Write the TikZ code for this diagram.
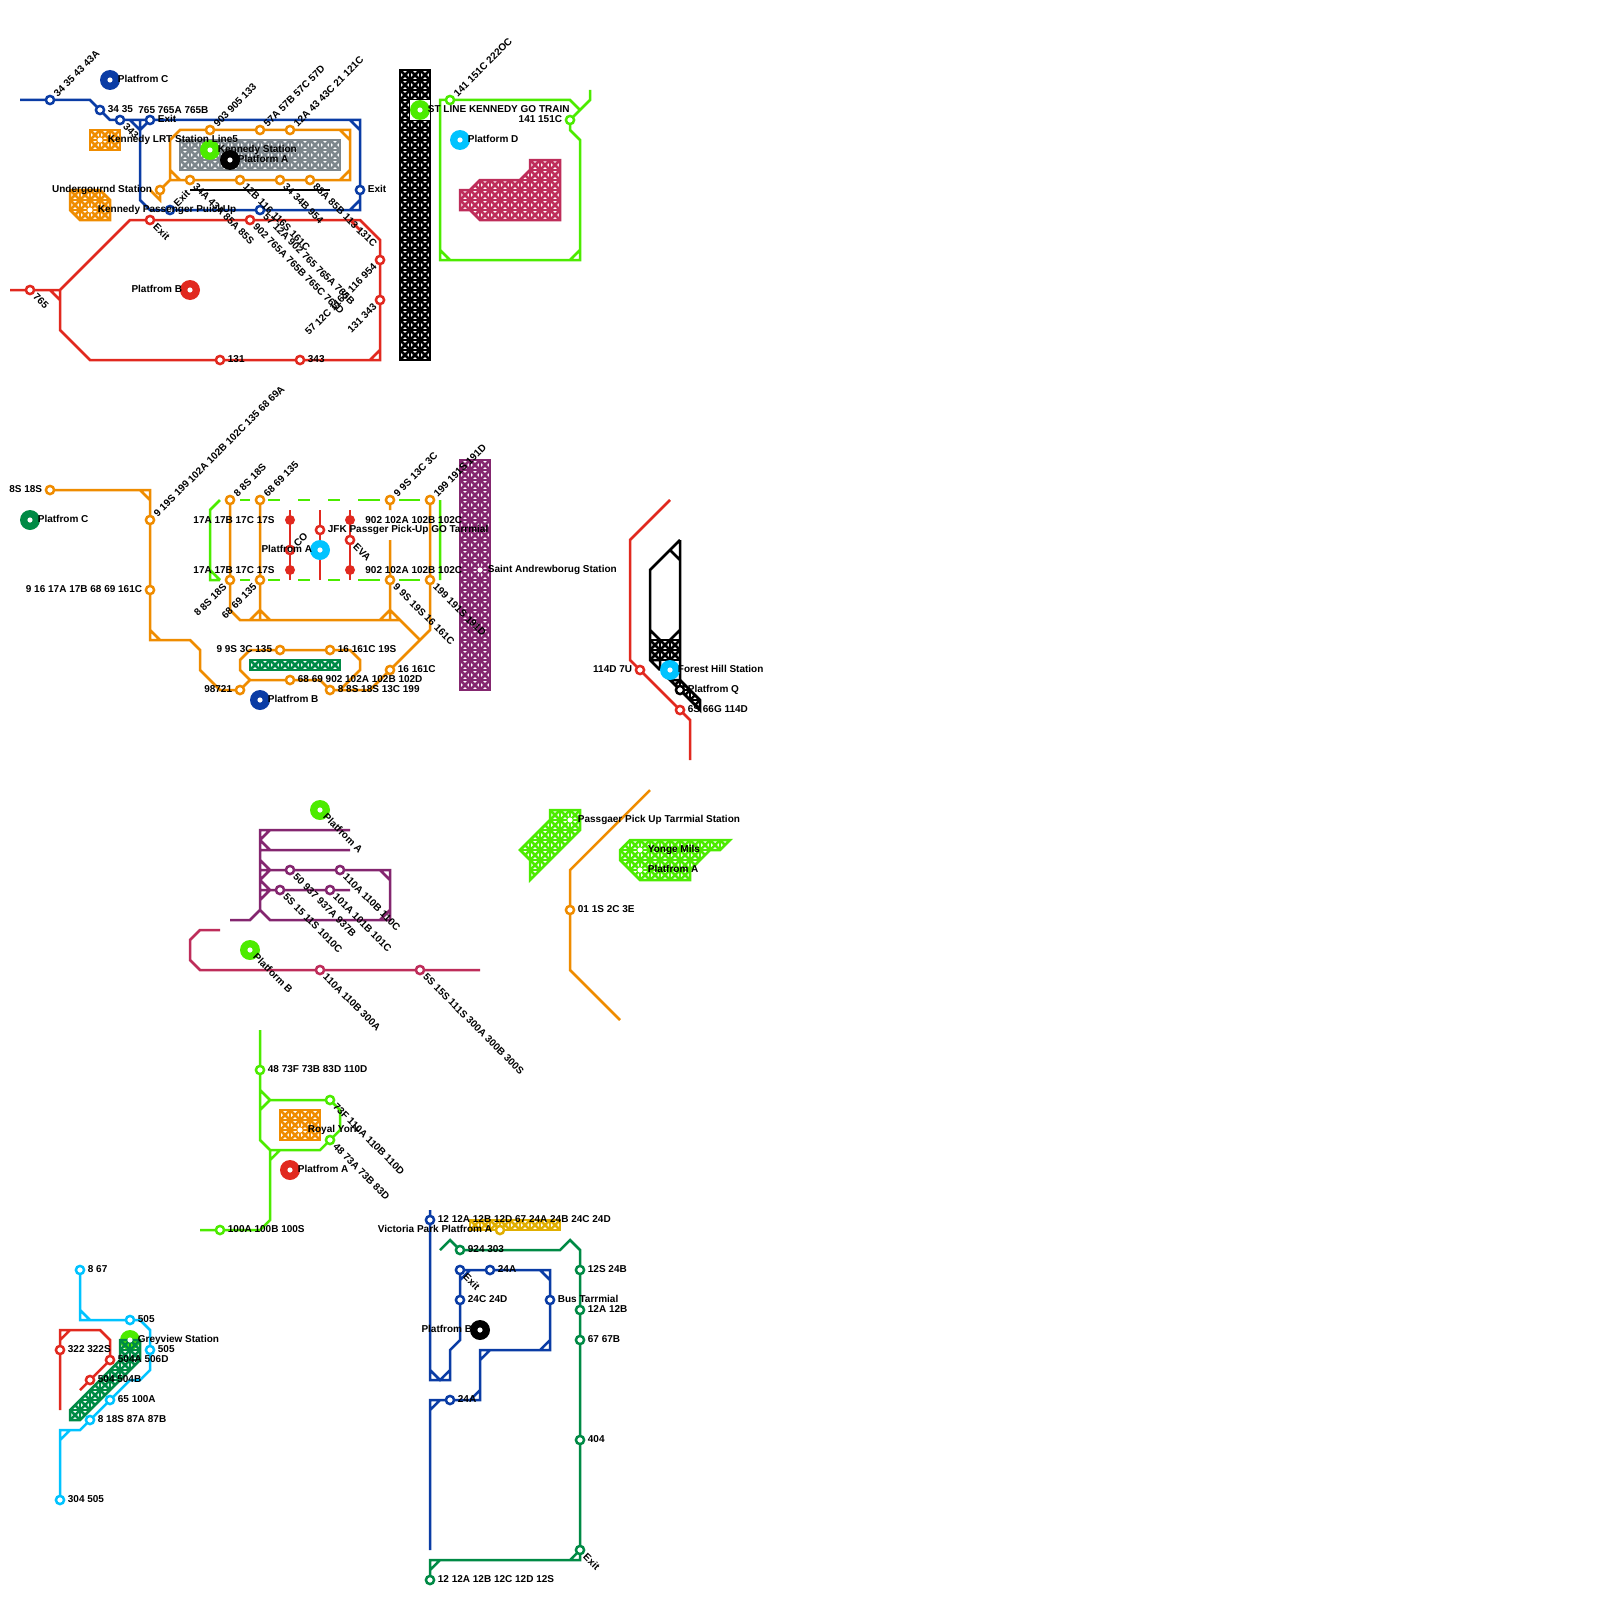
\documentclass[tikz,border=0pt]{standalone}
\usepackage{fontspec}
\setmainfont{Liberation Sans}
\definecolor{cblue}{HTML}{0A3CA5}
\definecolor{corange}{HTML}{EF8C00}
\definecolor{cred}{HTML}{E1291F}
\definecolor{clime}{HTML}{4CEB00}
\definecolor{ccyan}{HTML}{00C3FF}
\definecolor{cgreen}{HTML}{008A45}
\definecolor{cpurple}{HTML}{84266F}
\definecolor{crasp}{HTML}{BE2D5A}
\definecolor{cgold}{HTML}{E0AE00}
\definecolor{cgray}{HTML}{7D868C}
\tikzset{
 ln/.style={line width=1.25pt,line join=miter,line cap=butt},
 hl/.style={line width=1.25pt},
 stn/.style={circle,fill=white,line width=1.25pt,inner sep=0pt,minimum size=4.1pt},
 bigc/.style={circle,inner sep=0pt,minimum size=10pt},
 wdot/.style={circle,fill=white,inner sep=0pt,minimum size=2.6pt},
 fdot/.style={circle,inner sep=0pt,minimum size=5pt},
 lab/.style={inner sep=0pt,text height=3.6pt,text depth=0pt,font=\fontsize{5}{6}\selectfont\bfseries,text=black},
}
\newcommand{\ST}[4]{\node[stn,draw=#2] (#1) at (#3,#4) {};}
\newcommand{\PL}[4]{\node[bigc,fill=#2] (#1) at (#3,#4) {};\node[wdot] (#1d) at (#1) {};}
\newcommand{\WD}[3]{\node[wdot] (#1) at (#2,#3) {};}
\newcommand{\FD}[4]{\node[fdot,fill=#2] (#1) at (#3,#4) {};}
\newcommand{\LR}[2]{\node[lab,anchor=west] (l#1) at ([xshift=3.75pt,yshift=0.5pt]#1.center) {#2};}
\newcommand{\LL}[2]{\node[lab,anchor=east] (l#1) at ([xshift=-3.75pt,yshift=0.5pt]#1.center) {#2};}
\newcommand{\LU}[2]{\node[lab,anchor=west,rotate=45] (l#1) at ([xshift=2.5pt,yshift=2.5pt]#1.center) {#2};}
\newcommand{\LD}[2]{\node[lab,anchor=west,rotate=-45] (l#1) at ([xshift=2.5pt,yshift=-2.5pt]#1.center) {#2};}
\newcommand{\LUL}[2]{\node[lab,anchor=east,rotate=45] (l#1) at ([xshift=-2.5pt,yshift=-2.5pt]#1.center) {#2};}
\newcommand{\hatchblock}[6]{%
 \begin{scope}
  \clip #2;
  \foreach \hx in {#3,...,#4}{\foreach \hy in {#5,...,#6}{
    \draw[hl,#1] ({\hx*10},{\hy*10}) rectangle ({\hx*10+10},{\hy*10+10});
    \draw[hl,#1] ({\hx*10},{\hy*10}) -- ({\hx*10+10},{\hy*10+10});
    \draw[hl,#1] ({\hx*10+10},{\hy*10}) -- ({\hx*10},{\hy*10+10});
  }}
 \end{scope}
 \draw[ln,#1] #2;
}
\begin{document}
\begin{tikzpicture}[x=0.5pt,y=-0.5pt]
\useasboundingbox (0,0) rectangle (1600,1600);
\fill[white] (0,0) rectangle (1600,1600);
% ---- hatched blocks
\hatchblock{cgray}{(180,140) rectangle (340,170)}{18}{33}{14}{16}
\hatchblock{corange}{(90,130) rectangle (120,150)}{9}{11}{13}{14}
\hatchblock{corange}{(70,190) -- (100,190) -- (110,200) -- (110,220) -- (80,220) -- (70,210) -- cycle}{7}{10}{19}{21}
\hatchblock{black}{(400,70) rectangle (430,360)}{40}{42}{7}{35}
\fill[white] (410,100) rectangle (430,120);
\hatchblock{crasp}{(460,190) -- (470,190) -- (480,180) -- (520,180) -- (530,170) -- (530,160) -- (560,160) -- (560,220) -- (480,220) -- (470,210) -- (460,210) -- cycle}{46}{55}{16}{21}
\hatchblock{cgreen}{(250,660) rectangle (340,670)}{25}{33}{66}{66}
\hatchblock{cpurple}{(460,460) rectangle (490,690)}{46}{48}{46}{68}
\hatchblock{black}{(650,640) rectangle (680,660)}{65}{67}{64}{65}
\hatchblock{black}{(670,680) -- (680,680) -- (700,700) -- (700,710) -- cycle}{67}{69}{68}{70}
\hatchblock{clime}{(550,810) -- (580,810) -- (580,830) -- (530,880) -- (530,860) -- (520,850) -- (550,820) -- cycle}{52}{57}{81}{87}
\hatchblock{clime}{(630,840) -- (730,840) -- (720,850) -- (710,850) -- (690,870) -- (690,880) -- (640,880) -- (620,860) -- (620,850) -- cycle}{62}{72}{84}{87}
\hatchblock{corange}{(280,1110) rectangle (320,1140)}{28}{31}{111}{113}
\hatchblock{cgold}{(470,1220) rectangle (560,1230)}{47}{55}{122}{122}
\node[bigc,fill=clime] (pgrey) at (130,1340) {};
\hatchblock{cgreen}{(120,1340) -- (140,1340) -- (140,1360) -- (80,1420) -- (70,1420) -- (70,1410) -- (120,1360) -- cycle}{7}{13}{134}{141}
% ---- lines: group 1
\draw[ln,cblue] (20,100) -- (90,100) -- (110,120) -- (360,120) -- (360,210) -- (150,210) -- (140,200) -- (140,120) (130,120) -- (140,130) -- (150,120) (350,120) -- (360,130) (350,210) -- (360,200);
\draw[ln,corange] (150,190) -- (160,200) -- (160,190) -- (170,180) -- (350,180) -- (350,130) -- (180,130) -- (170,140) -- (170,180) (170,170) -- (180,180) (340,130) -- (350,140) (340,180) -- (350,170);
\draw[ln,black] (190,190) -- (330,190);
\draw[ln,cred] (10,290) -- (60,290) -- (130,220) -- (360,220) -- (380,240) -- (380,360) -- (90,360) -- (60,330) -- (60,290) (50,290) -- (60,300) (350,220) -- (360,230) (370,360) -- (380,350);
\draw[ln,clime] (590,90) -- (590,100) -- (570,120) -- (570,130) -- (580,140) -- (580,250) -- (570,260) -- (440,260) -- (440,100) -- (570,100) -- (580,110) (440,250) -- (450,260) (570,260) -- (580,260) -- (580,250);
% ---- group 2
\foreach \dy in {500,580}{\foreach \da/\db in {240/250,268/280,298/310,328/340,358/380,399/420}{\draw[ln,clime] (\da,\dy) -- (\db,\dy);}}
\draw[ln,clime] (220,500) -- (210,510) -- (210,580) -- (220,580) (210,570) -- (220,580) (440,500) -- (440,580);
\draw[ln,corange] (50,490) -- (150,490) -- (150,640) -- (190,640) -- (200,650) -- (200,670) -- (220,690) -- (240,690) -- (250,680) -- (320,680) -- (330,690) -- (370,690) -- (430,630) -- (430,500) (140,490) -- (150,500) (150,630) -- (160,640);
\draw[ln,corange] (250,680) -- (240,670) -- (240,660) -- (250,650) -- (350,650) -- (360,660) -- (360,670) -- (340,690);
\draw[ln,corange] (230,500) -- (230,610) -- (240,620) -- (400,620) -- (420,640) (260,500) -- (260,620) (250,620) -- (260,610) -- (270,620) (390,500) -- (390,510) (390,540) -- (390,620) (380,620) -- (390,610) -- (400,620);
\draw[ln,cred] (290,510) -- (290,580) (320,510) -- (320,580) (350,510) -- (350,580);
% ---- group 3
\draw[ln,cred] (670,500) -- (630,540) -- (630,660) -- (690,720) -- (690,760);
\draw[ln,black] (680,540) -- (650,570) -- (650,660) -- (660,670) (680,540) -- (680,680) (670,550) -- (680,560) (650,630) -- (660,640) (680,630) -- (670,640) (650,660) -- (660,660) -- (660,670);
% ---- group 4
\draw[ln,cpurple] (350,830) -- (260,830) -- (260,910) (260,840) -- (270,830) (260,840) -- (270,850) (260,850) -- (350,850) (260,860) -- (270,870) (260,880) -- (270,870) (260,870) -- (390,870) -- (390,920) -- (270,920) -- (260,910) -- (250,920) -- (230,920) (260,880) -- (270,890) (260,890) -- (350,890) (260,900) -- (270,890) (380,870) -- (390,880) (380,920) -- (390,910);
\draw[ln,crasp] (220,930) -- (200,930) -- (190,940) -- (190,960) -- (200,970) -- (480,970);
\draw[ln,corange] (650,790) -- (570,870) -- (570,970) -- (620,1020);
% ---- group 5
\draw[ln,clime] (260,1030) -- (260,1140) -- (270,1150) -- (320,1150) -- (340,1130) -- (340,1110) -- (330,1100) -- (270,1100) (260,1090) -- (270,1100) -- (260,1110) (270,1150) -- (270,1220) -- (260,1230) -- (200,1230) (270,1160) -- (280,1150);
% ---- group 6
\draw[ln,ccyan] (80,1270) -- (80,1320) -- (140,1320) -- (150,1330) -- (150,1370) -- (140,1380) -- (130,1380) -- (80,1430) -- (60,1430) -- (60,1500) (80,1310) -- (90,1320) (60,1440) -- (70,1430);
\draw[ln,cred] (60,1410) -- (60,1330) -- (100,1330) -- (110,1340) -- (110,1360) -- (80,1390) (60,1340) -- (70,1330);
% ---- group 7
\draw[ln,cblue] (430,1210) -- (430,1380) -- (450,1380) -- (450,1350) -- (460,1340) -- (460,1270) -- (550,1270) -- (550,1350) -- (480,1350) -- (480,1400) -- (430,1400) -- (430,1550) (430,1370) -- (440,1380) -- (450,1370) (540,1270) -- (550,1280) (540,1350) -- (550,1340) (480,1360) -- (490,1350) (470,1400) -- (480,1390) (430,1410) -- (440,1400) (460,1280) -- (470,1270);
\draw[ln,cgreen] (440,1250) -- (450,1240) -- (460,1250) -- (560,1250) -- (570,1240) -- (580,1250) -- (580,1560) -- (430,1560) -- (430,1580) (430,1570) -- (440,1560) (570,1560) -- (580,1550);
% ---- big circles
\PL{pc}{cblue}{110}{80}
\PL{pke}{clime}{210}{150}
\PL{pa}{black}{230}{160}
\PL{pb}{cred}{190}{290}
\PL{pgo}{clime}{420}{110}
\PL{pd}{ccyan}{460}{140}
\PL{pc2}{cgreen}{30}{520}
\PL{pa2}{ccyan}{320}{550}
\PL{pb2}{cblue}{260}{700}
\PL{pfh}{ccyan}{670}{670}
\PL{pa3}{clime}{320}{810}
\PL{pb3}{clime}{250}{950}
\PL{pa4}{cred}{290}{1170}
\PL{pb5}{black}{480}{1330}
\node[wdot] (pgreyd) at (pgrey) {};
% ---- white dots
\WD{w1}{100}{140}
\WD{w2}{90}{210}
\WD{w3}{480}{570}
\WD{w4}{570}{820}
\WD{w5}{640}{850}
\WD{w6}{640}{870}
\WD{w7}{300}{1130}
% ---- stations
\ST{a1}{cblue}{50}{100}
\ST{a2}{cblue}{100}{110}
\ST{a3}{cblue}{120}{120}
\ST{a4}{cblue}{150}{120}
\ST{a5}{cblue}{360}{190}
\ST{a6}{cblue}{170}{210}
\ST{a7}{cblue}{260}{210}
\ST{b1}{corange}{210}{130}
\ST{b2}{corange}{260}{130}
\ST{b3}{corange}{290}{130}
\ST{b4}{corange}{160}{190}
\ST{b5}{corange}{190}{180}
\ST{b6}{corange}{240}{180}
\ST{b7}{corange}{280}{180}
\ST{b8}{corange}{310}{180}
\ST{c1}{cred}{30}{290}
\ST{c2}{cred}{150}{220}
\ST{c3}{cred}{250}{220}
\ST{c4}{cred}{380}{260}
\ST{c5}{cred}{380}{300}
\ST{c6}{cred}{220}{360}
\ST{c7}{cred}{300}{360}
\ST{d1}{clime}{450}{100}
\ST{d2}{clime}{570}{120}
\ST{e1}{corange}{50}{490}
\ST{e2}{corange}{150}{520}
\ST{e3}{corange}{150}{590}
\ST{e4}{corange}{230}{500}
\ST{e5}{corange}{260}{500}
\ST{e6}{corange}{390}{500}
\ST{e7}{corange}{430}{500}
\ST{e8}{corange}{230}{580}
\ST{e9}{corange}{260}{580}
\ST{e10}{corange}{390}{580}
\ST{e11}{corange}{430}{580}
\ST{e12}{corange}{280}{650}
\ST{e13}{corange}{330}{650}
\ST{e14}{corange}{290}{680}
\ST{e15}{corange}{330}{690}
\ST{e16}{corange}{390}{670}
\ST{e17}{corange}{240}{690}
\FD{f1}{cred}{290}{520}
\FD{f2}{cred}{290}{570}
\FD{f3}{cred}{350}{520}
\FD{f4}{cred}{350}{570}
\ST{f5}{cred}{290}{550}
\ST{f6}{cred}{320}{530}
\ST{f7}{cred}{350}{540}
\ST{g1}{cred}{640}{670}
\ST{g2}{cred}{680}{710}
\ST{g3}{black}{680}{690}
\ST{h1}{cpurple}{290}{870}
\ST{h2}{cpurple}{340}{870}
\ST{h3}{cpurple}{280}{890}
\ST{h4}{cpurple}{330}{890}
\ST{i1}{crasp}{320}{970}
\ST{i2}{crasp}{420}{970}
\ST{j1}{corange}{570}{910}
\ST{k1}{clime}{260}{1070}
\ST{k2}{clime}{330}{1100}
\ST{k3}{clime}{330}{1140}
\ST{k4}{clime}{220}{1230}
\ST{m1}{ccyan}{80}{1270}
\ST{m2}{ccyan}{130}{1320}
\ST{m3}{ccyan}{150}{1350}
\ST{m4}{ccyan}{110}{1400}
\ST{m5}{ccyan}{90}{1420}
\ST{m6}{ccyan}{60}{1500}
\ST{n1}{cred}{60}{1350}
\ST{n2}{cred}{110}{1360}
\ST{n3}{cred}{90}{1380}
\ST{o1}{cblue}{430}{1220}
\ST{o2}{cblue}{460}{1270}
\ST{o3}{cblue}{490}{1270}
\ST{o4}{cblue}{460}{1300}
\ST{o5}{cblue}{550}{1300}
\ST{o6}{cblue}{450}{1400}
\ST{q1}{cgold}{500}{1230}
\ST{r1}{cgreen}{460}{1250}
\ST{r2}{cgreen}{580}{1270}
\ST{r3}{cgreen}{580}{1310}
\ST{r4}{cgreen}{580}{1340}
\ST{r5}{cgreen}{580}{1440}
\ST{r6}{cgreen}{580}{1550}
\ST{r7}{cgreen}{430}{1580}
% ---- labels
\LU{a1}{34 35 43 43A}
\LR{a2}{34 35}
\LD{a3}{343}
\LR{a4}{Exit}
\node[lab,anchor=west] (tx765) at (138,110) {765 765A 765B};
\LR{a5}{Exit}
\LU{a6}{Exit}
\LD{a7}{57 12A 902 765 765A 765B}
\LU{b1}{903 905 133}
\LU{b2}{57A 57B 57C 57D}
\LU{b3}{12A 43 43C 21 121C}
\LL{b4}{Undergournd Station}
\LD{b5}{34A 43A 85A 85S}
\LD{b6}{12B 116 116S 161C}
\LD{b7}{34 34B 954}
\LD{b8}{88A 85B 113 131C}
\LR{pc}{Platfrom C}
\LR{pke}{Kennedy Station}
\LR{pa}{Platform A}
\LL{pb}{Platfrom B}
\LR{w1}{Kennedy LRT Station Line5}
\LR{w2}{Kennedy Passenger PuickUp}
\LD{c1}{765}
\LD{c2}{Exit}
\LD{c3}{902 765A 765B 765C 765D}
\LUL{c4}{57 12C 116S 116 954}
\LUL{c5}{131 343}
\LR{c6}{131}
\LR{c7}{343}
\LR{pgo}{ST LINE KENNEDY GO TRAIN}
\LU{d1}{141 151C 222OC}
\LL{d2}{141 151C}
\LR{pd}{Platform D}
\LR{pc2}{Platfrom C}
\LL{e1}{8S 18S}
\LU{e2}{9 19S 199 102A 102B 102C 135 68 69A}
\LL{e3}{9 16 17A 17B 68 69 161C}
\LU{e4}{8 8S 18S}
\LU{e5}{68 69 135}
\LU{e6}{9 9S 13C 3C}
\LU{e7}{199 191S 191D}
\LUL{e8}{8 8S 18S}
\LUL{e9}{68 69 135}
\LD{e10}{9 9S 19S 16 161C}
\LD{e11}{199 191S 191D}
\LL{e12}{9 9S 3C 135}
\LR{e13}{16 161C 19S}
\LR{e14}{68 69 902 102A 102B 102D}
\LR{e15}{8 8S 18S 13C 199}
\LR{e16}{16 161C}
\LL{e17}{98721}
\LR{pb2}{Platfrom B}
\node[lab,anchor=east] (tx17a) at (275,520) {17A 17B 17C 17S};
\node[lab,anchor=east] (tx17b) at (275,570) {17A 17B 17C 17S};
\node[lab,anchor=west] (tx902a) at (365,520) {902 102A 102B 102C};
\node[lab,anchor=west] (tx902b) at (365,570) {902 102A 102B 102C};
\LU{f5}{CO}
\LR{f6}{JFK Passger Pick-Up GO Tarrmial}
\LD{f7}{EVA}
\LL{pa2}{Platfrom A}
\LR{w3}{Saint Andrewborug Station}
\LL{g1}{114D 7U}
\LR{g2}{6S 66G 114D}
\LR{g3}{Platfrom Q}
\LR{pfh}{Forest Hill Station}
\LD{pa3}{Platfrom A}
\LD{pb3}{Platform B}
\LD{h1}{50 937 937A 937B}
\LD{h2}{110A 110B 110C}
\LD{h3}{5S 15 11S 1010C}
\LD{h4}{101A 101B 101C}
\LD{i1}{110A 110B 300A}
\LD{i2}{5S 15S 111S 300A 300B 300S}
\LR{j1}{01 1S 2C 3E}
\LR{w4}{Passgaer Pick Up Tarrmial Station}
\LR{w5}{Yonge Mils}
\LR{w6}{Platfrom A}
\LR{k1}{48 73F 73B 83D 110D}
\LD{k2}{73F 110A 110B 110D}
\LD{k3}{48 73A 73B 83D}
\LR{k4}{100A 100B 100S}
\LR{w7}{Royal York}
\LR{pa4}{Platfrom A}
\LR{m1}{8 67}
\LR{m2}{505}
\LR{m3}{505}
\LR{m4}{65 100A}
\LR{m5}{8 18S 87A 87B}
\LR{m6}{304 505}
\LR{n1}{322 322S}
\LR{n2}{504A 506D}
\LR{n3}{504 504B}
\LR{pgreyd}{Greyview Station}
\LR{o1}{12 12A 12B 12D 67 24A 24B 24C 24D}
\LD{o2}{Exit}
\LR{o3}{24A}
\LR{o4}{24C 24D}
\LR{o5}{Bus Tarrmial}
\LR{o6}{24A}
\LL{q1}{Victoria Park Platfrom A}
\LL{pb5}{Platfrom B}
\LR{r1}{924 303}
\LR{r2}{12S 24B}
\LR{r3}{12A 12B}
\LR{r4}{67 67B}
\LR{r5}{404}
\LD{r6}{Exit}
\LR{r7}{12 12A 12B 12C 12D 12S}
\end{tikzpicture}
\end{document}
